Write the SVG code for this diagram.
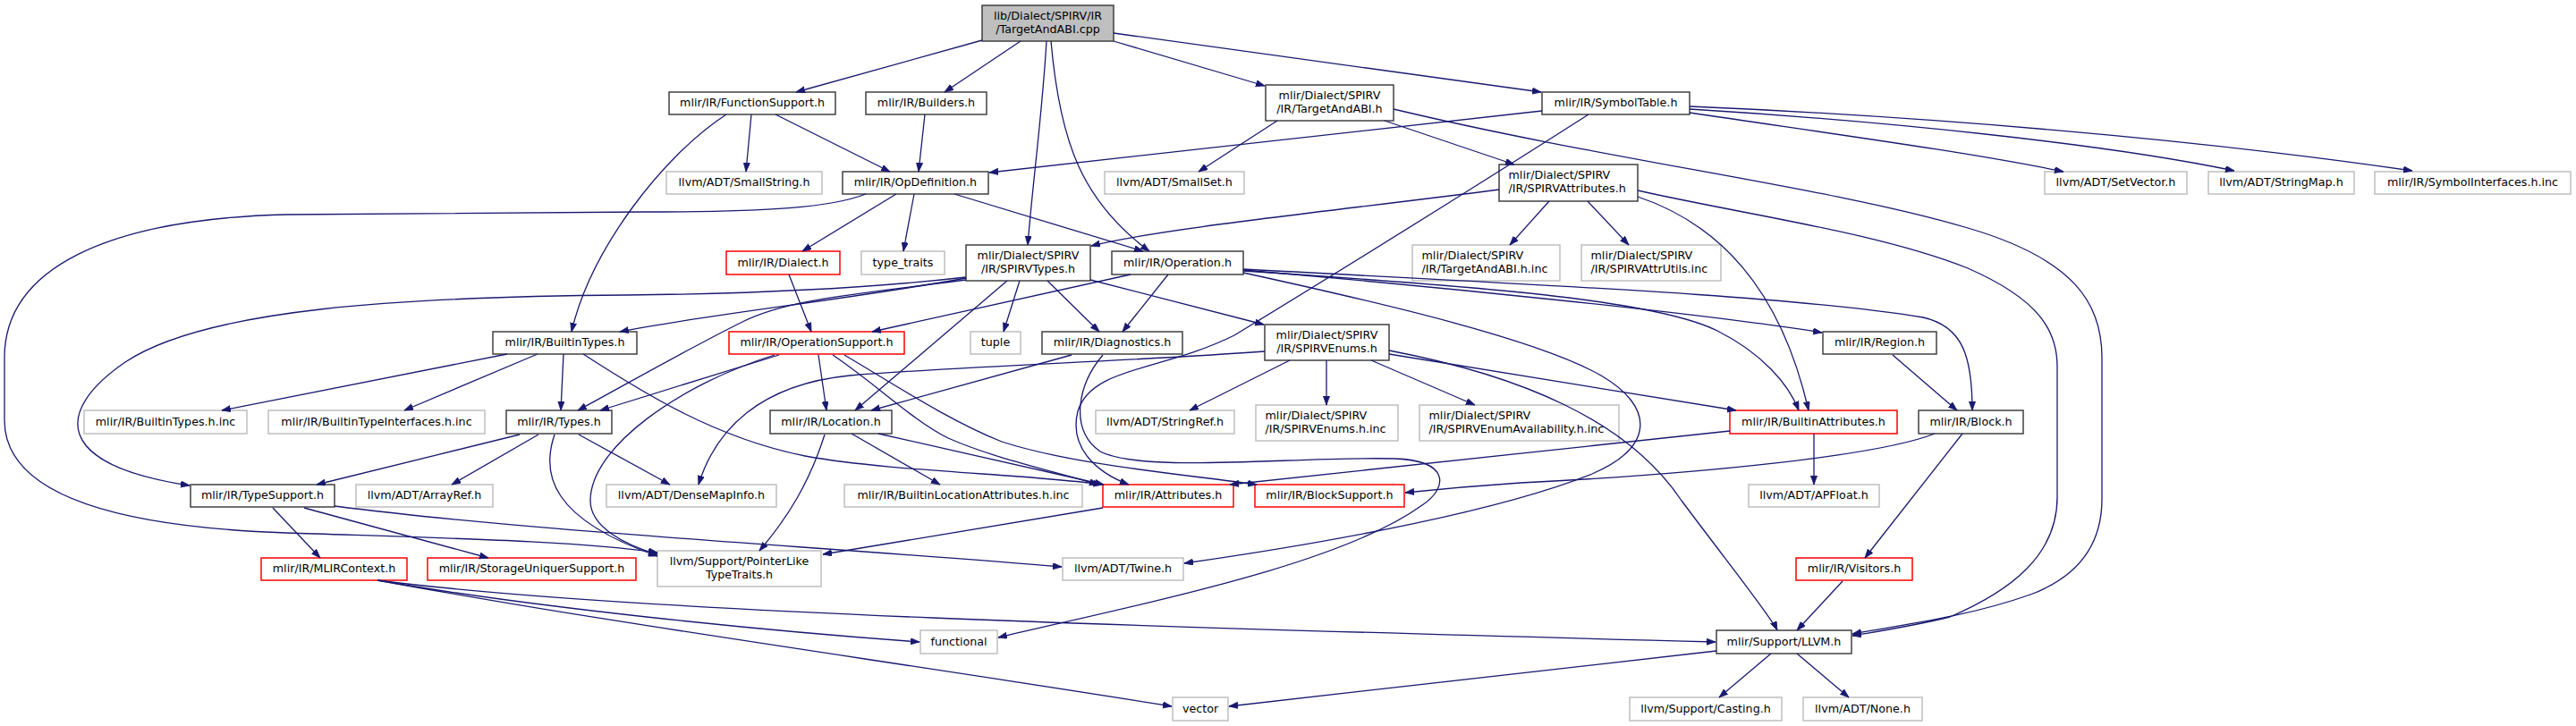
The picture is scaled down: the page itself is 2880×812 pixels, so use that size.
<svg xmlns="http://www.w3.org/2000/svg" width="2880" height="812" viewBox="0 0 2880 812">
<style>
rect{fill:#ffffff;stroke-width:1.5}
.n{stroke:#404040}
.g{stroke:#bfbfbf}
.r{stroke:#ff0000}
.root{fill:#bfbfbf;stroke:#404040}
text{font-family:"DejaVu Sans","Liberation Sans",sans-serif;font-size:12.7px;fill:#000000;text-anchor:middle}
text.l{text-anchor:start}
#edges path{fill:none;stroke:#191970;stroke-width:1.3;marker-end:url(#ah)}
</style>
<defs>
<marker id="ah" markerUnits="userSpaceOnUse" markerWidth="11" markerHeight="8" refX="10" refY="3.6" orient="auto">
<path d="M0,0 L10,3.6 L0,7.2 z" fill="#191970" stroke="#191970" stroke-width="0.8"/>
</marker>
</defs>
<rect width="2880" height="812" style="fill:#ffffff;stroke:none"/>
<g id="node-cpp"><rect class="root" x="1098" y="6" width="147" height="40"/><text x="1171.5" y="21.5">lib/Dialect/SPIRV/IR</text><text x="1171.5" y="36.5">/TargetAndABI.cpp</text></g>
<g id="node-functionsupport"><rect class="n" x="748" y="103" width="186" height="25"/><text x="841" y="119.3">mlir/IR/FunctionSupport.h</text></g>
<g id="node-builders"><rect class="n" x="968" y="103" width="135" height="25"/><text x="1035.5" y="119.3">mlir/IR/Builders.h</text></g>
<g id="node-targetandabi-h"><rect class="n" x="1415" y="95" width="143" height="40"/><text x="1486.5" y="110.5">mlir/Dialect/SPIRV</text><text x="1486.5" y="125.5">/IR/TargetAndABI.h</text></g>
<g id="node-symboltable"><rect class="n" x="1724" y="103" width="165" height="25"/><text x="1806.5" y="119.3">mlir/IR/SymbolTable.h</text></g>
<g id="node-smallstring"><rect class="g" x="745" y="192" width="174" height="25"/><text x="832" y="208.3">llvm/ADT/SmallString.h</text></g>
<g id="node-opdefinition"><rect class="n" x="942" y="192" width="163" height="25"/><text x="1023.5" y="208.3">mlir/IR/OpDefinition.h</text></g>
<g id="node-smallset"><rect class="g" x="1235" y="192" width="156" height="25"/><text x="1313" y="208.3">llvm/ADT/SmallSet.h</text></g>
<g id="node-setvector"><rect class="g" x="2286" y="192" width="159" height="25"/><text x="2365.5" y="208.3">llvm/ADT/SetVector.h</text></g>
<g id="node-stringmap"><rect class="g" x="2469" y="192" width="163" height="25"/><text x="2550.5" y="208.3">llvm/ADT/StringMap.h</text></g>
<g id="node-symbolinterfaces"><rect class="g" x="2655" y="192" width="219" height="25"/><text x="2764.5" y="208.3">mlir/IR/SymbolInterfaces.h.inc</text></g>
<g id="node-spirvattributes"><rect class="n" x="1676" y="184" width="155" height="41"/><text class="l" x="1686.5" y="200">mlir/Dialect/SPIRV</text><text class="l" x="1686.5" y="215">/IR/SPIRVAttributes.h</text></g>
<g id="node-dialect"><rect class="r" x="812" y="281" width="127" height="26"/><text x="875.5" y="297.8">mlir/IR/Dialect.h</text></g>
<g id="node-typetraits"><rect class="g" x="963" y="281" width="93" height="26"/><text x="1009.5" y="297.8">type_traits</text></g>
<g id="node-spirvtypes"><rect class="n" x="1080" y="274" width="139" height="40"/><text x="1149.5" y="289.5">mlir/Dialect/SPIRV</text><text x="1149.5" y="304.5">/IR/SPIRVTypes.h</text></g>
<g id="node-operation"><rect class="n" x="1243" y="281" width="147" height="26"/><text x="1316.5" y="297.8">mlir/IR/Operation.h</text></g>
<g id="node-targetandabi-inc"><rect class="g" x="1579" y="274" width="165" height="40"/><text class="l" x="1589.5" y="289.5">mlir/Dialect/SPIRV</text><text class="l" x="1589.5" y="304.5">/IR/TargetAndABI.h.inc</text></g>
<g id="node-attrutils"><rect class="g" x="1768" y="274" width="156" height="40"/><text class="l" x="1778.5" y="289.5">mlir/Dialect/SPIRV</text><text class="l" x="1778.5" y="304.5">/IR/SPIRVAttrUtils.inc</text></g>
<g id="node-builtintypes"><rect class="n" x="551" y="371" width="161" height="25"/><text x="631.5" y="387.3">mlir/IR/BuiltinTypes.h</text></g>
<g id="node-operationsupport"><rect class="r" x="815" y="371" width="196" height="25"/><text x="913" y="387.3">mlir/IR/OperationSupport.h</text></g>
<g id="node-tuple"><rect class="g" x="1085" y="371" width="56" height="25"/><text x="1113" y="387.3">tuple</text></g>
<g id="node-diagnostics"><rect class="n" x="1165" y="371" width="157" height="25"/><text x="1243.5" y="387.3">mlir/IR/Diagnostics.h</text></g>
<g id="node-spirvenums"><rect class="n" x="1414" y="363" width="139" height="40"/><text x="1483.5" y="378.5">mlir/Dialect/SPIRV</text><text x="1483.5" y="393.5">/IR/SPIRVEnums.h</text></g>
<g id="node-region"><rect class="n" x="2038" y="371" width="127" height="25"/><text x="2101.5" y="387.3">mlir/IR/Region.h</text></g>
<g id="node-builtintypes-inc"><rect class="g" x="94" y="459" width="182" height="26"/><text x="185" y="475.8">mlir/IR/BuiltinTypes.h.inc</text></g>
<g id="node-builtintypeinterfaces-inc"><rect class="g" x="300" y="459" width="242" height="26"/><text x="421" y="475.8">mlir/IR/BuiltinTypeInterfaces.h.inc</text></g>
<g id="node-types"><rect class="n" x="566" y="459" width="118" height="26"/><text x="625" y="475.8">mlir/IR/Types.h</text></g>
<g id="node-location"><rect class="n" x="861" y="459" width="136" height="26"/><text x="929" y="475.8">mlir/IR/Location.h</text></g>
<g id="node-stringref"><rect class="g" x="1225" y="459" width="155" height="26"/><text x="1302.5" y="475.8">llvm/ADT/StringRef.h</text></g>
<g id="node-spirvenums-inc"><rect class="g" x="1404" y="453" width="159" height="40"/><text class="l" x="1414.5" y="468.5">mlir/Dialect/SPIRV</text><text class="l" x="1414.5" y="483.5">/IR/SPIRVEnums.h.inc</text></g>
<g id="node-spirvenumavailability-inc"><rect class="g" x="1587" y="453" width="223" height="40"/><text class="l" x="1597.5" y="468.5">mlir/Dialect/SPIRV</text><text class="l" x="1597.5" y="483.5">/IR/SPIRVEnumAvailability.h.inc</text></g>
<g id="node-builtinattributes"><rect class="r" x="1934" y="459" width="187" height="26"/><text x="2027.5" y="475.8">mlir/IR/BuiltinAttributes.h</text></g>
<g id="node-block"><rect class="n" x="2145" y="459" width="117" height="26"/><text x="2203.5" y="475.8">mlir/IR/Block.h</text></g>
<g id="node-typesupport"><rect class="n" x="213" y="542" width="161" height="25"/><text x="293.5" y="558.3">mlir/IR/TypeSupport.h</text></g>
<g id="node-arrayref"><rect class="g" x="398" y="542" width="153" height="25"/><text x="474.5" y="558.3">llvm/ADT/ArrayRef.h</text></g>
<g id="node-densemapinfo"><rect class="g" x="678" y="542" width="190" height="25"/><text x="773" y="558.3">llvm/ADT/DenseMapInfo.h</text></g>
<g id="node-builtinlocationattributes-inc"><rect class="g" x="944" y="542" width="266" height="25"/><text x="1077" y="558.3">mlir/IR/BuiltinLocationAttributes.h.inc</text></g>
<g id="node-attributes"><rect class="r" x="1233" y="542" width="146" height="25"/><text x="1306" y="558.3">mlir/IR/Attributes.h</text></g>
<g id="node-blocksupport"><rect class="r" x="1403" y="542" width="167" height="25"/><text x="1486.5" y="558.3">mlir/IR/BlockSupport.h</text></g>
<g id="node-apfloat"><rect class="g" x="1955" y="542" width="146" height="25"/><text x="2028" y="558.3">llvm/ADT/APFloat.h</text></g>
<g id="node-mlircontext"><rect class="r" x="292" y="624" width="163" height="25"/><text x="373.5" y="640.3">mlir/IR/MLIRContext.h</text></g>
<g id="node-storageuniquersupport"><rect class="r" x="478" y="624" width="233" height="25"/><text x="594.5" y="640.3">mlir/IR/StorageUniquerSupport.h</text></g>
<g id="node-pointerliketypetraits"><rect class="g" x="735" y="616" width="183" height="40"/><text x="826.5" y="631.5">llvm/Support/PointerLike</text><text x="826.5" y="646.5">TypeTraits.h</text></g>
<g id="node-twine"><rect class="g" x="1188" y="624" width="135" height="25"/><text x="1255.5" y="640.3">llvm/ADT/Twine.h</text></g>
<g id="node-visitors"><rect class="r" x="2008" y="624" width="130" height="25"/><text x="2073" y="640.3">mlir/IR/Visitors.h</text></g>
<g id="node-functional"><rect class="g" x="1029" y="705" width="86" height="26"/><text x="1072" y="721.8">functional</text></g>
<g id="node-llvm"><rect class="n" x="1919" y="705" width="151" height="26"/><text x="1994.5" y="721.8">mlir/Support/LLVM.h</text></g>
<g id="node-vector"><rect class="g" x="1311" y="780" width="62" height="26"/><text x="1342" y="796.8">vector</text></g>
<g id="node-casting"><rect class="g" x="1822" y="780" width="170" height="26"/><text x="1907" y="796.8">llvm/Support/Casting.h</text></g>
<g id="node-none"><rect class="g" x="2016" y="780" width="133" height="26"/><text x="2082.5" y="796.8">llvm/ADT/None.h</text></g>
<g id="edges">
<path d="M1098,45 L890,103"/>
<path d="M1141,46 L1056,103"/>
<path d="M1170,46 C1165,130 1155,200 1149,274"/>
<path d="M1175,46 C1185,160 1210,225 1285,281"/>
<path d="M1245,46 L1414,96"/>
<path d="M1245,37 L1723,103"/>
<path d="M840,128 L834,192"/>
<path d="M867,128 L995,192"/>
<path d="M812,128 C740,175 660,280 639,371"/>
<path d="M1034,128 L1027,192"/>
<path d="M1428,135 L1340,192"/>
<path d="M1548,135 L1693,184"/>
<path d="M1558,122 C1800,180 2050,210 2200,255 C2320,290 2350,340 2350,400 L2350,558 C2350,620 2310,650 2270,665 C2200,690 2120,700 2071,709"/>
<path d="M1724,124 L1106,193"/>
<path d="M1776,128 C1640,215 1470,320 1380,375 C1300,415 1220,410 1205,460 C1195,500 1225,528 1262,542"/>
<path d="M1889,126 C2050,150 2200,170 2307,192"/>
<path d="M1889,122 C2100,135 2350,160 2498,191"/>
<path d="M1889,119 C2150,130 2450,155 2697,191"/>
<path d="M1002,217 L897,281"/>
<path d="M1022,217 L1010,281"/>
<path d="M1067,217 L1278,281"/>
<path d="M968,217 C930,232 860,237 720,237 L320,240 C120,245 5,300 5,400 L5,470 C5,560 150,590 320,596 C500,602 650,605 735,618"/>
<path d="M1676,212 C1500,235 1300,255 1220,275"/>
<path d="M1732,225 L1688,274"/>
<path d="M1775,225 L1821,274"/>
<path d="M1831,220 C1920,250 1990,320 2022,459"/>
<path d="M1831,213 C1950,240 2100,260 2200,300 C2280,335 2300,370 2300,410 L2300,556 C2300,620 2250,660 2180,690 C2140,700 2100,706 2071,711"/>
<path d="M1080,311 C950,335 800,350 693,371"/>
<path d="M1080,313 C950,330 880,335 830,360 C760,395 700,430 646,459"/>
<path d="M1080,310 C950,325 800,329 700,330 C450,332 230,345 140,405 C60,460 60,520 212,543"/>
<path d="M1126,314 L956,459"/>
<path d="M1140,314 L1122,371"/>
<path d="M1171,314 L1229,371"/>
<path d="M1219,313 L1413,363"/>
<path d="M1264,307 L975,371"/>
<path d="M1306,307 L1255,371"/>
<path d="M1390,302 C1600,320 1900,350 2037,372"/>
<path d="M1390,301 C1700,318 2000,330 2150,355 C2195,365 2205,400 2205,459"/>
<path d="M1390,303 C1650,320 1850,335 1920,370 C1970,395 2000,430 2011,459"/>
<path d="M1390,305 C1550,340 1720,380 1790,420 C1850,455 1850,500 1780,530 C1680,570 1500,605 1324,630"/>
<path d="M882,307 L907,371"/>
<path d="M567,396 L248,459"/>
<path d="M601,396 L452,459"/>
<path d="M630,396 L627,459"/>
<path d="M652,396 C720,440 800,490 900,510 C1000,528 1150,530 1232,542"/>
<path d="M871,397 L671,459"/>
<path d="M866,397 C760,430 660,500 660,560 C660,590 700,610 735,620"/>
<path d="M915,397 L924,459"/>
<path d="M931,397 C980,430 1020,470 1060,490 C1110,512 1170,525 1228,542"/>
<path d="M944,397 C1000,430 1060,470 1120,494 C1200,520 1320,530 1405,542"/>
<path d="M1198,397 L974,459"/>
<path d="M1233,397 C1205,430 1195,480 1230,505 C1280,530 1450,510 1560,513 C1620,515 1620,545 1590,565 C1500,630 1300,670 1116,713"/>
<path d="M1442,403 L1330,459"/>
<path d="M1483,403 L1483,453"/>
<path d="M1533,403 L1649,453"/>
<path d="M1553,396 L1941,459"/>
<path d="M1553,392 C1700,420 1820,470 1880,560 C1940,640 1980,690 1987,705"/>
<path d="M1414,393 C1250,405 1100,408 950,420 C850,430 800,480 781,542"/>
<path d="M2116,397 L2188,459"/>
<path d="M581,486 L354,542"/>
<path d="M602,486 L505,542"/>
<path d="M647,486 L749,542"/>
<path d="M620,486 C605,530 615,580 735,622"/>
<path d="M952,485 L1051,542"/>
<path d="M982,485 L1234,542"/>
<path d="M922,486 C905,540 880,580 849,616"/>
<path d="M1934,482 C1700,508 1500,528 1375,542"/>
<path d="M2028,485 L2028,542"/>
<path d="M2163,485 C2100,510 1900,530 1700,540 C1640,544 1600,548 1571,551"/>
<path d="M2194,485 L2085,624"/>
<path d="M1233,568 L920,620"/>
<path d="M305,568 L358,624"/>
<path d="M340,568 L546,624"/>
<path d="M374,566 C600,595 900,610 1187,634"/>
<path d="M422,649 C700,685 1300,702 1918,718"/>
<path d="M422,649 C600,680 850,705 1028,718"/>
<path d="M422,649 C700,700 1000,740 1310,790"/>
<path d="M2060,650 L2009,705"/>
<path d="M1919,728 L1374,790"/>
<path d="M1980,731 L1922,780"/>
<path d="M2009,731 L2067,780"/>
</g>
</svg>
